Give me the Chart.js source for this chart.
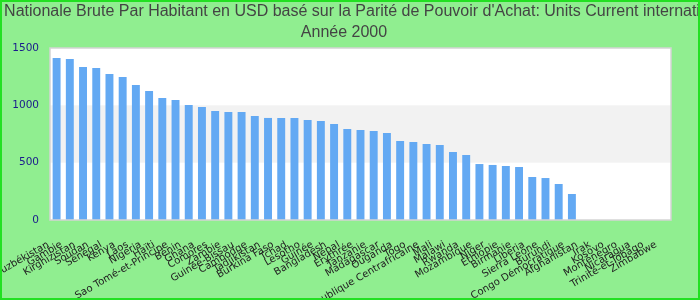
<!DOCTYPE html>
<html>
<head>
<meta charset="utf-8">
<script src="https://cdn.jsdelivr.net/npm/chart.js@4/dist/chart.umd.min.js"></script>
<style>
  html, body { margin: 0; padding: 0; background: #90ee90; }
  #wrap { position: relative; width: 700px; height: 300px; box-sizing: border-box; border: 2px solid #22e022; }
</style>
</head>
<body>
<div id="wrap"><canvas id="gniChart"></canvas></div>
<script>
// Donnees
const pays = [
  "Ouzbékistan", "Gambie", "Kirghizistan", "Soudan", "Sénégal", "Kenya", "Laos", "Nigeria",
  "Haïti", "Sao Tomé-et-Principe", "Bénin", "Ghana", "Comores", "Zambie", "Guinée-Bissau",
  "Cambodge", "Tadjikistan", "Burkina Faso", "Tchad", "Lesotho", "Guinée", "Bangladesh",
  "Népal", "Érythrée", "Tanzanie", "Madagascar", "Ouganda", "Togo", "République Centrafricaine",
  "Mali", "Malawi", "Rwanda", "Mozambique", "Niger", "Éthiopie", "Birmanie", "Liberia",
  "Sierra Leone", "Burundi", "Congo Démocratique", "Afghanistan", "Irak", "Kosovo",
  "Monténégro", "Nicaragua", "Trinité-et-Tobago", "Zimbabwe"
];
const valeurs = [
  1413, 1404, 1334, 1326, 1273, 1247, 1177, 1125, 1064, 1047, 1003, 985, 951, 942, 942,
  907, 890, 890, 890, 872, 863, 837, 794, 785, 776, 759, 689, 680, 663, 654, 593, 567,
  488, 480, 471, 462, 375, 366, 314, 227, null, null, null, null, null, null, null
];
const yTicks = [0, 500, 1000, 1500];
const bande = [500, 1000];

const titre = [
  "Revenu Nationale Brute Par Habitant en USD basé sur la Parité de Pouvoir d'Achat: Units Current international $",
  "Année 2000"
];

// fond blanc + bande grise + cadre de la zone de trace
const fondPlugin = {
  id: "fondPlugin",
  beforeDraw(chart) {
    const { ctx, chartArea: a, scales } = chart;
    ctx.save();
    ctx.fillStyle = "#ffffff";
    ctx.fillRect(a.left, a.top, a.right - a.left, a.bottom - a.top);
    const y1 = scales.y.getPixelForValue(bande[1]);
    const y0 = scales.y.getPixelForValue(bande[0]);
    ctx.fillStyle = "#f2f2f2";
    ctx.fillRect(a.left, y1, a.right - a.left, y0 - y1);
    ctx.restore();
  },
  afterDatasetsDraw(chart) {
    const { ctx, chartArea: a } = chart;
    ctx.save();
    ctx.strokeStyle = "#d4d4d4";
    ctx.lineWidth = 1.5;
    ctx.strokeRect(a.left, a.top, a.right - a.left, a.bottom - a.top);
    ctx.restore();
  }
};

// titre dessine a la main : trop long, il deborde du canvas comme dans l'original
const titrePlugin = {
  id: "titrePlugin",
  afterDraw(chart) {
    const c = chart.ctx;
    c.save();
    c.font = '16px "Liberation Sans", Arial, sans-serif';
    c.fillStyle = "#444444";
    c.textAlign = "center";
    c.textBaseline = "middle";
    titre.forEach((t, i) => c.fillText(t, chart.width / 2 - 6, 10 + i * 21));
    c.restore();
  }
};

const noPadding = () => ({ left: 0, right: 0, top: 0, bottom: 0 });

const ctx = document.getElementById("gniChart").getContext("2d");
new Chart(ctx, {
  type: "bar",
  data: {
    labels: pays,
    datasets: [{
      data: valeurs,
      backgroundColor: "#63a9f3",
      borderWidth: 0,
      barPercentage: 0.6,
      categoryPercentage: 1.0
    }]
  },
  options: {
    responsive: true,
    maintainAspectRatio: false,
    animation: false,
    layout: { padding: { left: 11, right: 27, top: 46, bottom: 0 } },
    plugins: {
      legend: { display: false },
      tooltip: { enabled: false },
      title: { display: false }
    },
    scales: {
      x: {
        grid: { display: false, drawTicks: false },
        border: { display: false },
        afterFit(scale) {
          // les etiquettes debordent a gauche sans decaler la zone de trace
          scale.height = 78;
          scale.paddingLeft = 0;
          scale.paddingRight = 0;
          scale.getPadding = noPadding;
        },
        ticks: {
          autoSkip: false,
          maxRotation: 30,
          minRotation: 30,
          color: "#222222",
          padding: 14,
          font: { family: "DejaVu Sans", size: 10 },
          callback(value) {
            return this.getLabelForValue(value) + "   ";
          }
        }
      },
      y: {
        min: 0,
        max: 1500,
        grid: { display: false, drawTicks: false },
        border: { display: false },
        afterFit(scale) {
          scale.width = 37;
        },
        afterBuildTicks(axis) {
          axis.ticks = yTicks.map((v) => ({ value: v }));
        },
        ticks: {
          color: "#1a1a8c",
          padding: 11,
          font: { family: "DejaVu Sans", size: 10.5 },
          callback(value) {
            return String(value);
          }
        }
      }
    }
  },
  plugins: [fondPlugin, titrePlugin]
});
</script>
</body>
</html>
